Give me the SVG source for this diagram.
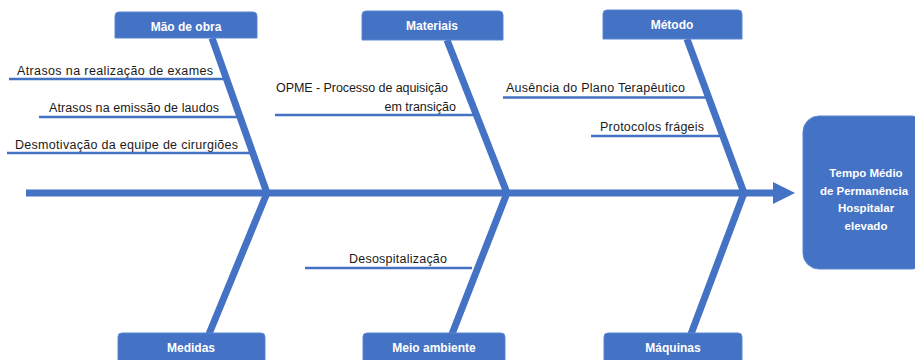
<svg xmlns="http://www.w3.org/2000/svg" width="915" height="360" viewBox="0 0 915 360">
<style>
.bone{stroke:#4472C4;stroke-width:7;fill:none;stroke-linecap:butt}
.sub{stroke:#4472C4;stroke-width:2.5;fill:none}
.box{fill:#4472C4;stroke:#5B86D0;stroke-width:1}
.bt{font-family:"Liberation Sans",Arial,sans-serif;font-weight:bold;font-size:12px;fill:#fff;text-anchor:middle}
.rt{font-size:11.5px}
.lt{font-family:"Liberation Sans",Arial,sans-serif;font-size:12.5px;fill:#1a1a1a}
</style>
<rect width="915" height="360" fill="#fff"/>
<g id="connectors">
<line class="bone" x1="26" y1="193" x2="775" y2="193"/>
<polygon points="773,182 795,193 773,204" fill="#4472C4"/>
<polyline class="bone" points="212,38 267,193 209,334"/>
<polyline class="bone" points="447,40 507,193 452,334"/>
<polyline class="bone" points="687,39 744,193 691,334"/>
<line class="sub" x1="9" y1="79" x2="228" y2="79"/>
<line class="sub" x1="39" y1="117" x2="242" y2="117"/>
<line class="sub" x1="7" y1="153" x2="255" y2="153"/>
<line class="sub" x1="275" y1="115" x2="475" y2="115"/>
<line class="sub" x1="503" y1="97.5" x2="706" y2="97.5"/>
<line class="sub" x1="591" y1="136" x2="720" y2="136"/>
<line class="sub" x1="305" y1="268" x2="472" y2="268"/>
</g>
<g id="mao-de-obra">
<path class="box" d="M115,38 V16 Q115,12 119,12 H253 Q257,12 257,16 V38 Z"/>
<text class="bt" x="186" y="31">Mão de obra</text>
</g>
<g id="materiais">
<path class="box" d="M362,40 V15 Q362,11 366,11 H499 Q503,11 503,15 V40 Z"/>
<text class="bt" x="432" y="30">Materiais</text>
</g>
<g id="metodo">
<path class="box" d="M603,39 V14 Q603,10 607,10 H738 Q742,10 742,14 V39 Z"/>
<text class="bt" x="672" y="29">Método</text>
</g>
<g id="medidas">
<path class="box" d="M118,361 V337 Q118,333 122,333 H261 Q265,333 265,337 V361 Z"/>
<text class="bt" x="191" y="352">Medidas</text>
</g>
<g id="meio-ambiente">
<path class="box" d="M363,361 V337 Q363,333 367,333 H501 Q505,333 505,337 V361 Z"/>
<text class="bt" x="434" y="352">Meio ambiente</text>
</g>
<g id="maquinas">
<path class="box" d="M604,361 V337 Q604,333 608,333 H738 Q742,333 742,337 V361 Z"/>
<text class="bt" x="673" y="352">Máquinas</text>
</g>
<g id="efeito">
<rect class="box" x="803" y="116" width="125" height="153" rx="16" ry="16"/>
<text class="bt rt" x="866" y="177">Tempo Médio</text>
<text class="bt rt" x="864" y="195">de Permanência</text>
<text class="bt rt" x="866" y="212">Hospitalar</text>
<text class="bt rt" x="866" y="230">elevado</text>
</g>
<g id="causas">
<text class="lt" x="17" y="75" textLength="196">Atrasos na realização de exames</text>
<text class="lt" x="49" y="112" textLength="170">Atrasos na emissão de laudos</text>
<text class="lt" x="15" y="149" textLength="223">Desmotivação da equipe de cirurgiões</text>
<text class="lt" x="276" y="92" textLength="172">OPME - Processo de aquisição</text>
<text class="lt" x="456" y="111" text-anchor="end">em transição</text>
<text class="lt" x="506" y="92" textLength="179">Ausência do Plano Terapêutico</text>
<text class="lt" x="600" y="131" textLength="104">Protocolos frágeis</text>
<text class="lt" x="349" y="263" textLength="98">Desospitalização</text>
</g>
</svg>
